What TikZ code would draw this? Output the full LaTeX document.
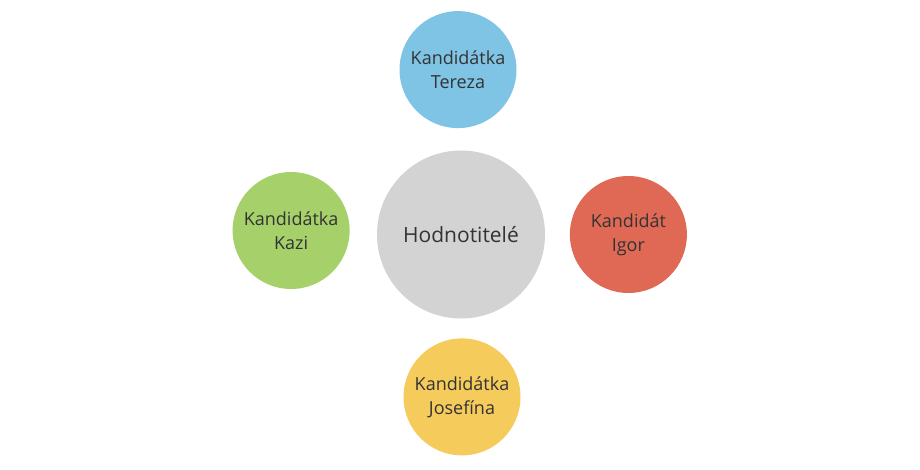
\documentclass[tikz,border=0pt]{standalone}
\usepackage{fontspec}
\setmainfont{Open Sans}
\usetikzlibrary{positioning}

\definecolor{hubgray}{HTML}{D3D3D3}
\definecolor{teresablue}{HTML}{7FC4E4}
\definecolor{kazigreen}{HTML}{A5D06A}
\definecolor{igorred}{HTML}{E06956}
\definecolor{josefyellow}{HTML}{F5CB5C}
\definecolor{txtgray}{HTML}{333333}

\tikzset{
    person/.style={circle, minimum size=117pt, inner sep=0pt, align=center,
        text=txtgray, font=\fontsize{18}{24}\selectfont},
}

\begin{document}
\begin{tikzpicture}[x=1pt, y=1pt, node distance=22pt]
    \useasboundingbox (0,0) rectangle (920,-470);

    \node (hub) [circle, fill=hubgray, minimum size=168pt, text=txtgray,
        font=\fontsize{21}{24}\selectfont] at (461,-234.5) {Hodnotitelé};

    \node (tereza) [person, fill=teresablue, above=22pt of hub, xshift=-3pt] {Kandidátka\\Tereza};
    \node (kazi) [person, fill=kazigreen, left=27pt of hub, yshift=4pt] {Kandidátka\\Kazi};
    \node (igor) [person, fill=igorred, right=24.5pt of hub] {Kandidát\\Igor};
    \node (josefina) [person, fill=josefyellow, below=19.5pt of hub, xshift=1pt] {Kandidátka\\Josefína};
\end{tikzpicture}
\end{document}
